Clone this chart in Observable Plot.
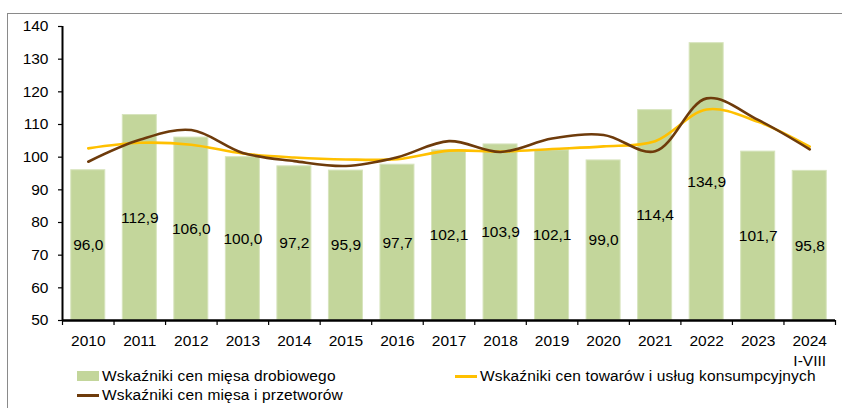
<!DOCTYPE html>
<html><head><meta charset="utf-8">
<script src="https://cdn.jsdelivr.net/npm/d3@7"></script>
<script src="https://cdn.jsdelivr.net/npm/@observablehq/plot@0.6"></script>
<style>
body{margin:0;background:#fff;font-family:Arial,"Liberation Sans",sans-serif;width:842px;height:408px;overflow:hidden;position:relative}
#frame{position:absolute;left:7px;top:13px;width:900px;height:500px;border:1.5px solid #8a8a8a;box-sizing:border-box}
#chart{position:absolute;left:0;top:0}
.leg{position:absolute;font-size:15.5px;letter-spacing:0.15px;color:#000;display:flex;align-items:center;white-space:nowrap;height:18px}
.sw{display:inline-block;width:22px;margin-right:3px}
</style></head>
<body>
<div id="frame"></div>
<div id="chart"></div>
<div class="leg" style="left:77px;top:367px"><span class="sw" style="height:10px;background:#c3d69b"></span>Wskaźniki cen mięsa drobiowego</div>
<div class="leg" style="left:455px;top:367px"><span class="sw" style="height:3px;background:#ffc000"></span>Wskaźniki cen towarów i usług konsumpcyjnych</div>
<div class="leg" style="left:77px;top:386px"><span class="sw" style="height:3px;background:#6e3b0b"></span>Wskaźniki cen mięsa i przetworów</div>
<script>
const years = ["2010","2011","2012","2013","2014","2015","2016","2017","2018","2019","2020","2021","2022","2023","2024"];
const yearLabels = ["2010","2011","2012","2013","2014","2015","2016","2017","2018","2019","2020","2021","2022","2023","2024\nI-VIII"];
const poultry = [96.0,112.9,106.0,100.0,97.2,95.9,97.7,102.1,103.9,102.1,99.0,114.4,134.9,101.7,95.8];
const cpi = [102.7,104.4,103.8,101.1,99.9,99.3,99.4,102.0,101.7,102.5,103.3,104.9,114.6,110.8,103.2];
const meat = [98.6,105.3,108.3,101.3,98.8,97.3,100.0,104.9,101.6,105.7,106.8,101.8,118.0,111.4,102.4];
const yTicks = [50,60,70,80,90,100,110,120,130,140];

const W = 842, H = 380, mL = 62, mR = 7;
const step = (W - mL - mR) / years.length;
const bars = years.map((y, i) => ({year: y, v: poultry[i]}));
const cpiData = years.map((y, i) => ({year: y, v: cpi[i]}));
const meatData = years.map((y, i) => ({year: y, v: meat[i]}));
const xLab = years.map((y, i) => ({year: y, label: yearLabels[i]}));

const plot = Plot.plot({
  width: W, height: H,
  marginLeft: mL, marginRight: mR, marginTop: 26, marginBottom: H - 320,
  style: {fontSize: "15.5px", fontFamily: "Arial, 'Liberation Sans', sans-serif", color: "#000", background: "transparent"},
  x: {domain: years, paddingInner: 0.34, paddingOuter: 0.17, round: false, axis: null, label: null},
  y: {domain: [50, 140], axis: null, label: null},
  marks: [
    Plot.barY(bars, {x: "year", y1: 50, y2: "v", fill: "#c3d69b", stroke: "#d7e4bd", strokeWidth: 1}),
    Plot.line(cpiData, {x: "year", y: "v", stroke: "#ffc000", strokeWidth: 2.6, curve: "catmull-rom"}),
    Plot.line(meatData, {x: "year", y: "v", stroke: "#6e3b0b", strokeWidth: 2.6, curve: "catmull-rom"}),
    Plot.text(bars, {x: "year", y: d => (50 + d.v) / 2, text: d => d.v.toFixed(1).replace(".", ","), fill: "#000", fontSize: 15.5}),
    Plot.ruleY([50], {stroke: "#000", strokeWidth: 2.5}),
    Plot.ruleX([years[0]], {x: d => d, dx: -step / 2, y1: 50, y2: 140, stroke: "#000", strokeWidth: 2}),
    Plot.ruleX(years, {x: d => d, dx: -step / 2, y1: 50, y2: 50, insetBottom: -5, stroke: "#000", strokeWidth: 1.2}),
    Plot.ruleX([years[years.length - 1]], {x: d => d, dx: step / 2, y1: 50, y2: 50, insetBottom: -5, stroke: "#000", strokeWidth: 1.2}),
    Plot.axisY(yTicks, {anchor: "left", label: null, tickSize: 4, strokeWidth: 1.2, tickFormat: () => ""}),
    Plot.text(yTicks, {y: d => d, frameAnchor: "left", dx: -14, textAnchor: "end", text: d => String(d), fill: "#000", fontSize: 15.5}),
    Plot.text(xLab, {x: "year", y: 50, dy: 12, lineAnchor: "top", text: "label", lineHeight: 1.25, fill: "#000", fontSize: 15.5})
  ]
});
document.getElementById("chart").appendChild(plot);
</script>
</body></html>
